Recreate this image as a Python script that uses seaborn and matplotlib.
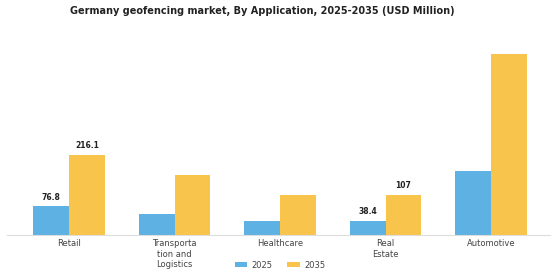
import matplotlib
matplotlib.use("Agg")
import matplotlib.pyplot as plt
import pandas as pd
import seaborn as sns

categories = ["Retail", "Transporta\ntion and\nLogistics", "Healthcare", "Real\nEstate", "Automotive"]
years = ["2025", "2035"]
values_2025 = [76.8, 56.5, 39.0, 38.4, 173.0]
values_2035 = [216.1, 163.0, 107.0, 107.0, 488.0]
labelled = ["Retail", "Real\nEstate"]
label_text_2025 = ["76.8", "38.4"]
label_text_2035 = ["216.1", "107"]

df = pd.DataFrame({
    "Application": categories * 2,
    "Year": [years[0]] * len(categories) + [years[1]] * len(categories),
    "Value": values_2025 + values_2035,
})

sns.set_style("white")
plt.rcParams["font.family"] = ["DejaVu Sans"]

fig = plt.figure(figsize=(5.6, 2.8), dpi=100)
ax = fig.add_axes([7 / 560, 45 / 280, 543 / 560, 193 / 280])

sns.barplot(data=df, x="Application", y="Value", hue="Year",
            palette=["#5db2e3", "#f8c44b"], width=0.68, gap=0,
            saturation=1, linewidth=0, edgecolor="none", ax=ax, legend=True)

ax.set_xlim(-0.59, 4.56)
ax.set_ylim(0, 520)
ax.set_xlabel("")
ax.set_ylabel("")
ax.set_yticks([])
ax.tick_params(axis="x", length=0, labelsize=6, colors="#444444", pad=3)
for s in ["top", "right", "left"]:
    ax.spines[s].set_visible(False)
ax.spines["bottom"].set_color("#dddddd")
ax.spines["bottom"].set_linewidth(0.8)

# value labels only on a couple of groups
for cont, texts in zip(ax.containers, [label_text_2025, label_text_2035]):
    k = 0
    for bar, cat in zip(cont, categories):
        if cat in labelled:
            ax.annotate(texts[k], (bar.get_x() + bar.get_width() / 2, bar.get_height()),
                        xytext=(0, 3.5), textcoords="offset points",
                        ha="center", va="bottom", fontsize=5.5, fontweight="bold",
                        color="#222222")
            k += 1

ax.legend(loc="center", bbox_to_anchor=(280 / 560, 15 / 280), bbox_transform=fig.transFigure,
          ncol=2, frameon=False, fontsize=6, handlelength=1.5, handleheight=0.5,
          handletextpad=0.5, columnspacing=1.8, labelcolor="#444444")

fig.suptitle("Germany geofencing market, By Application, 2025-2035 (USD Million)",
             x=0.468, y=1 - 11 / 280, va="center", fontsize=7, fontweight="bold", color="#222222")

fig.savefig("out.png", dpi=100)
